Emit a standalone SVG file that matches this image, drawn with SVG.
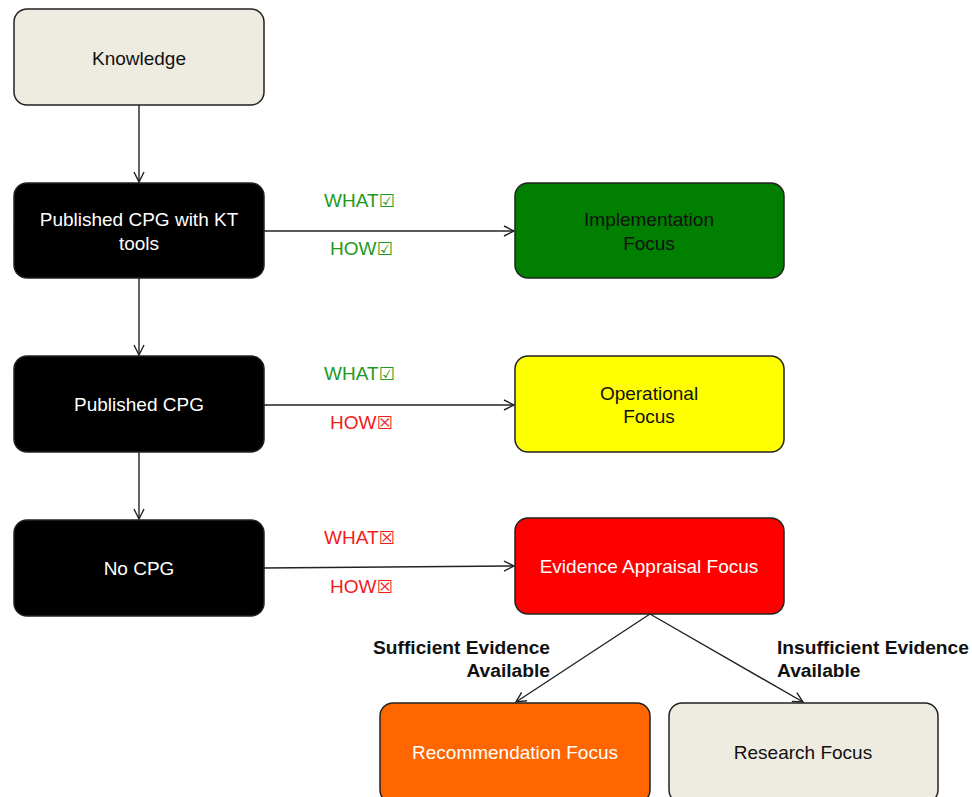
<svg xmlns="http://www.w3.org/2000/svg" width="972" height="797" viewBox="0 0 972 797">
<defs>
<marker id="arr" viewBox="0 0 12 12" refX="11" refY="6" markerWidth="12" markerHeight="12" markerUnits="userSpaceOnUse" orient="auto">
<polyline points="1,1 11,6 1,11" fill="none" stroke="#222" stroke-width="1.4"/>
</marker>
<style>
.box{stroke:#222;stroke-width:1.5}
.t{font-family:"Liberation Sans",Arial,sans-serif;font-size:19px;text-anchor:middle}
.lbl{font-family:"Liberation Sans",Arial,sans-serif;font-size:19px}
.chk{font-family:"DejaVu Sans",sans-serif;font-size:18px}
.b{font-family:"Liberation Sans",Arial,sans-serif;font-size:19.2px;font-weight:bold;fill:#111}
.c{fill:none;stroke:#222;stroke-width:1.4}
.g{fill:#1E9A1E}
.r{fill:#F21C1C}
</style>
</defs>
<rect width="972" height="797" fill="#fff"/>
<g id="connectors">
<line class="c" x1="139" y1="105" x2="139" y2="182" marker-end="url(#arr)"/>
<line class="c" x1="139" y1="278" x2="139" y2="355" marker-end="url(#arr)"/>
<line class="c" x1="139" y1="452" x2="139" y2="519" marker-end="url(#arr)"/>
<line class="c" x1="264" y1="231" x2="514" y2="231" marker-end="url(#arr)"/>
<line class="c" x1="264" y1="405" x2="514" y2="405" marker-end="url(#arr)"/>
<line class="c" x1="264" y1="568" x2="514" y2="566" marker-end="url(#arr)"/>
<line class="c" x1="650" y1="614" x2="516" y2="702" marker-end="url(#arr)"/>
<line class="c" x1="650" y1="614" x2="803" y2="702" marker-end="url(#arr)"/>
<text class="lbl g" x="324" y="207">WHAT<tspan class="chk">☑</tspan></text>
<text class="lbl g" x="330" y="255">HOW<tspan class="chk">☑</tspan></text>
<text class="lbl g" x="324" y="380">WHAT<tspan class="chk">☑</tspan></text>
<text class="lbl r" x="330" y="429">HOW<tspan class="chk">☒</tspan></text>
<text class="lbl r" x="324" y="544">WHAT<tspan class="chk">☒</tspan></text>
<text class="lbl r" x="330" y="593">HOW<tspan class="chk">☒</tspan></text>
<text class="b" x="550" y="654" text-anchor="end">Sufficient Evidence</text>
<text class="b" x="550" y="677" text-anchor="end">Available</text>
<text class="b" x="777" y="654">Insufficient Evidence</text>
<text class="b" x="777" y="677">Available</text>
</g>
<g id="knowledge">
<rect class="box" x="14" y="9" width="250" height="96" rx="13" fill="#EEEBE1"/>
<text class="t" x="139" y="65" fill="#111">Knowledge</text>
</g>
<g id="cpg-kt">
<rect class="box" x="14" y="183" width="250" height="95" rx="13" fill="#000"/>
<text class="t" x="139" y="226" fill="#fff">Published CPG with KT</text>
<text class="t" x="139" y="250" fill="#fff">tools</text>
</g>
<g id="cpg">
<rect class="box" x="14" y="356" width="250" height="96" rx="13" fill="#000"/>
<text class="t" x="139" y="411" fill="#fff">Published CPG</text>
</g>
<g id="nocpg">
<rect class="box" x="14" y="520" width="250" height="96" rx="13" fill="#000"/>
<text class="t" x="139" y="575" fill="#fff">No CPG</text>
</g>
<g id="implementation">
<rect class="box" x="515" y="183" width="269" height="95" rx="13" fill="#007F00"/>
<text class="t" x="649" y="226" fill="#111">Implementation</text>
<text class="t" x="649" y="250" fill="#111">Focus</text>
</g>
<g id="operational">
<rect class="box" x="515" y="356" width="269" height="96" rx="13" fill="#FFFF00"/>
<text class="t" x="649" y="400" fill="#111">Operational</text>
<text class="t" x="649" y="423" fill="#111">Focus</text>
</g>
<g id="appraisal">
<rect class="box" x="515" y="518" width="269" height="96" rx="13" fill="#FF0000"/>
<text class="t" x="649" y="573" fill="#fff">Evidence Appraisal Focus</text>
</g>
<g id="recommendation">
<rect class="box" x="380" y="703" width="270" height="100" rx="13" fill="#FF6600"/>
<text class="t" x="515" y="759" fill="#fff">Recommendation Focus</text>
</g>
<g id="research">
<rect class="box" x="669" y="703" width="269" height="100" rx="13" fill="#EEEBE1"/>
<text class="t" x="803" y="759" fill="#111">Research Focus</text>
</g>
</svg>
